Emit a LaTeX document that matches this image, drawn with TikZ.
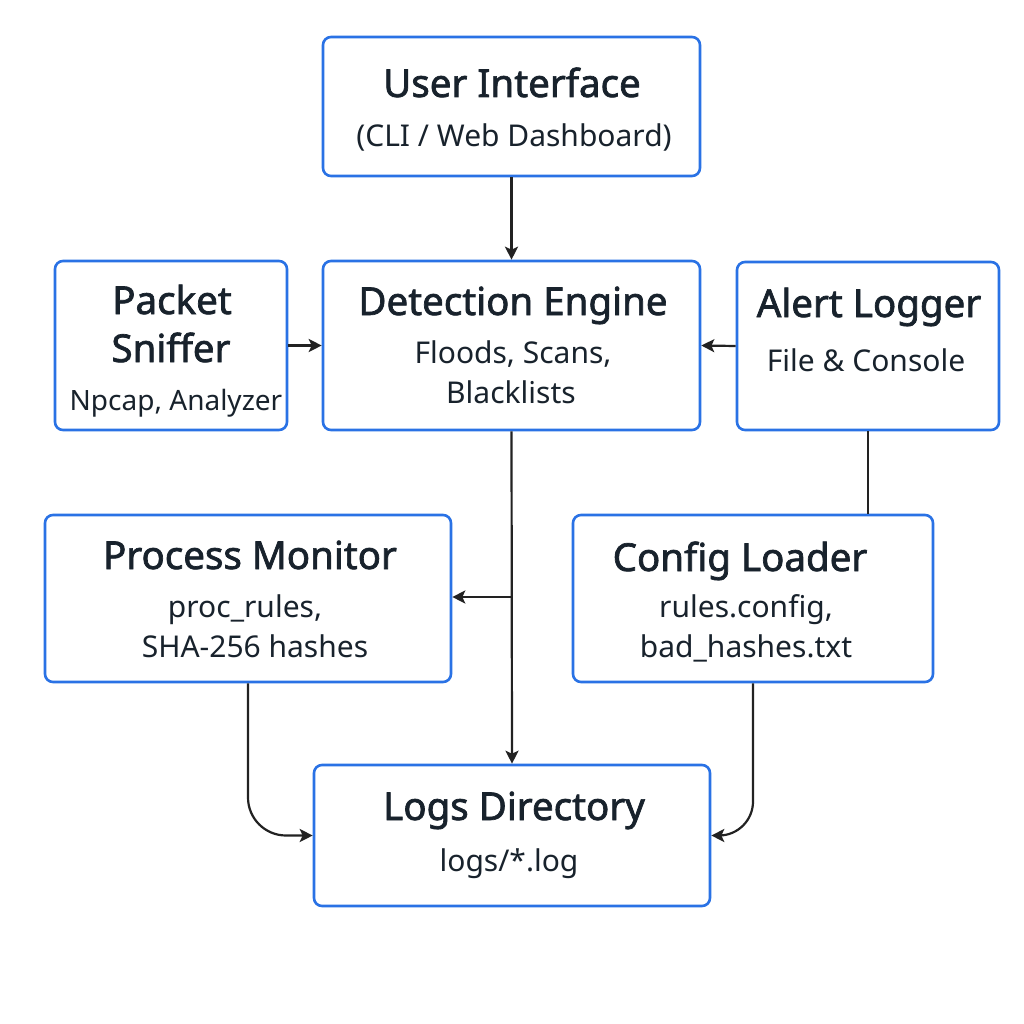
\documentclass[tikz,border=0pt]{standalone}
\usepackage{fontspec}
\setmainfont{Noto Sans}
\newfontfamily\titlefont[FakeBold=1.8]{Noto Sans}
\usetikzlibrary{arrows.meta,calc}
\definecolor{boxblue}{HTML}{2A72E5}
\definecolor{ink}{HTML}{18222C}
\definecolor{wire}{HTML}{222222}
\begin{document}
\begin{tikzpicture}[x=1pt,y=-1pt,
  box/.style={draw=boxblue,line width=2.6pt,rounded corners=8pt,fill=white,inner sep=0pt},
  ttl/.style={anchor=base,text=ink,font=\titlefont\fontsize{38.5}{40}\selectfont,inner sep=0pt},
  sub/.style={anchor=base,text=ink,font=\fontsize{30}{32}\selectfont,inner sep=0pt},
  wirearrow/.style={draw=wire,line width=2.2pt,-{Stealth[length=13pt,width=13pt,inset=3pt]}},
  wireline/.style={draw=wire,line width=2.2pt}]
\useasboundingbox (0,0) rectangle (1024,1024);
\fill[white] (0,0) rectangle (1024,1024);
% boxes
\node[box,minimum width=377pt,minimum height=139pt] (ui) at (511.5,106.5) {};
\node[box,minimum width=232pt,minimum height=169pt] (ps) at (171,345.5) {};
\node[box,minimum width=377pt,minimum height=169pt] (de) at (511.5,345.5) {};
\node[box,minimum width=262pt,minimum height=168pt] (al) at (868,346) {};
\node[box,minimum width=406pt,minimum height=167pt] (pm) at (248,598.5) {};
\node[box,minimum width=360pt,minimum height=167pt] (cl) at (753,598.5) {};
\node[box,minimum width=396pt,minimum height=141pt] (ld) at (512,835.5) {};
% texts
\node[ttl] (ui-t) at (512,97) {User Interface};
\node[sub] (ui-s) at (514,146.5) {(CLI / Web Dashboard)};
\node[ttl] (ps-t1) at (172,314) {Packet};
\node[ttl] (ps-t2) at (171,362) {Sniffer};
\node[sub,font=\fontsize{28}{30}\selectfont] (ps-s) at (176,410) {Npcap, Analyzer};
\node[ttl] (de-t) at (513,315) {Detection Engine};
\node[sub] (de-s1) at (513,363.5) {Floods, Scans,};
\node[sub] (de-s2) at (511,403.5) {Blacklists};
\node[ttl] (al-t) at (869,317) {Alert Logger};
\node[sub] (al-s) at (866,371.5) {File \& Console};
\node[ttl] (pm-t) at (250,569) {Process Monitor};
\node[sub] (pm-s1) at (245,617.5) {proc\_rules,};
\node[sub] (pm-s2) at (255,657.5) {SHA-256 hashes};
\node[ttl] (cl-t) at (740,571) {Config Loader};
\node[sub] (cl-s1) at (746,617.5) {rules.config,};
\node[sub] (cl-s2) at (746,657.5) {bad\_hashes.txt};
\node[ttl] (ld-t) at (514,820) {Logs Directory};
\node[sub] (ld-s) at (509,871.5) {logs/*.log};
% connectors
\draw[wirearrow] (ui.south) -- (de.north);
\draw[wirearrow] (ps.east) -- (de.west);
\draw[wirearrow] (al.west) -- (de.east);
\draw[wirearrow] (de.south) -- (ld.north);
\coordinate (branch) at (512,597);
\draw[wirearrow] (branch) -- (branch -| pm.east);
\draw[wireline] (al.south) -- (al.south |- cl.north);
\draw[wirearrow,rounded corners=38pt] (pm.south) -- (pm.south |- ld.west) -- (ld.west);
\draw[wirearrow,rounded corners=34pt] (cl.south) -- (cl.south |- ld.east) -- (ld.east);
\end{tikzpicture}
\end{document}
